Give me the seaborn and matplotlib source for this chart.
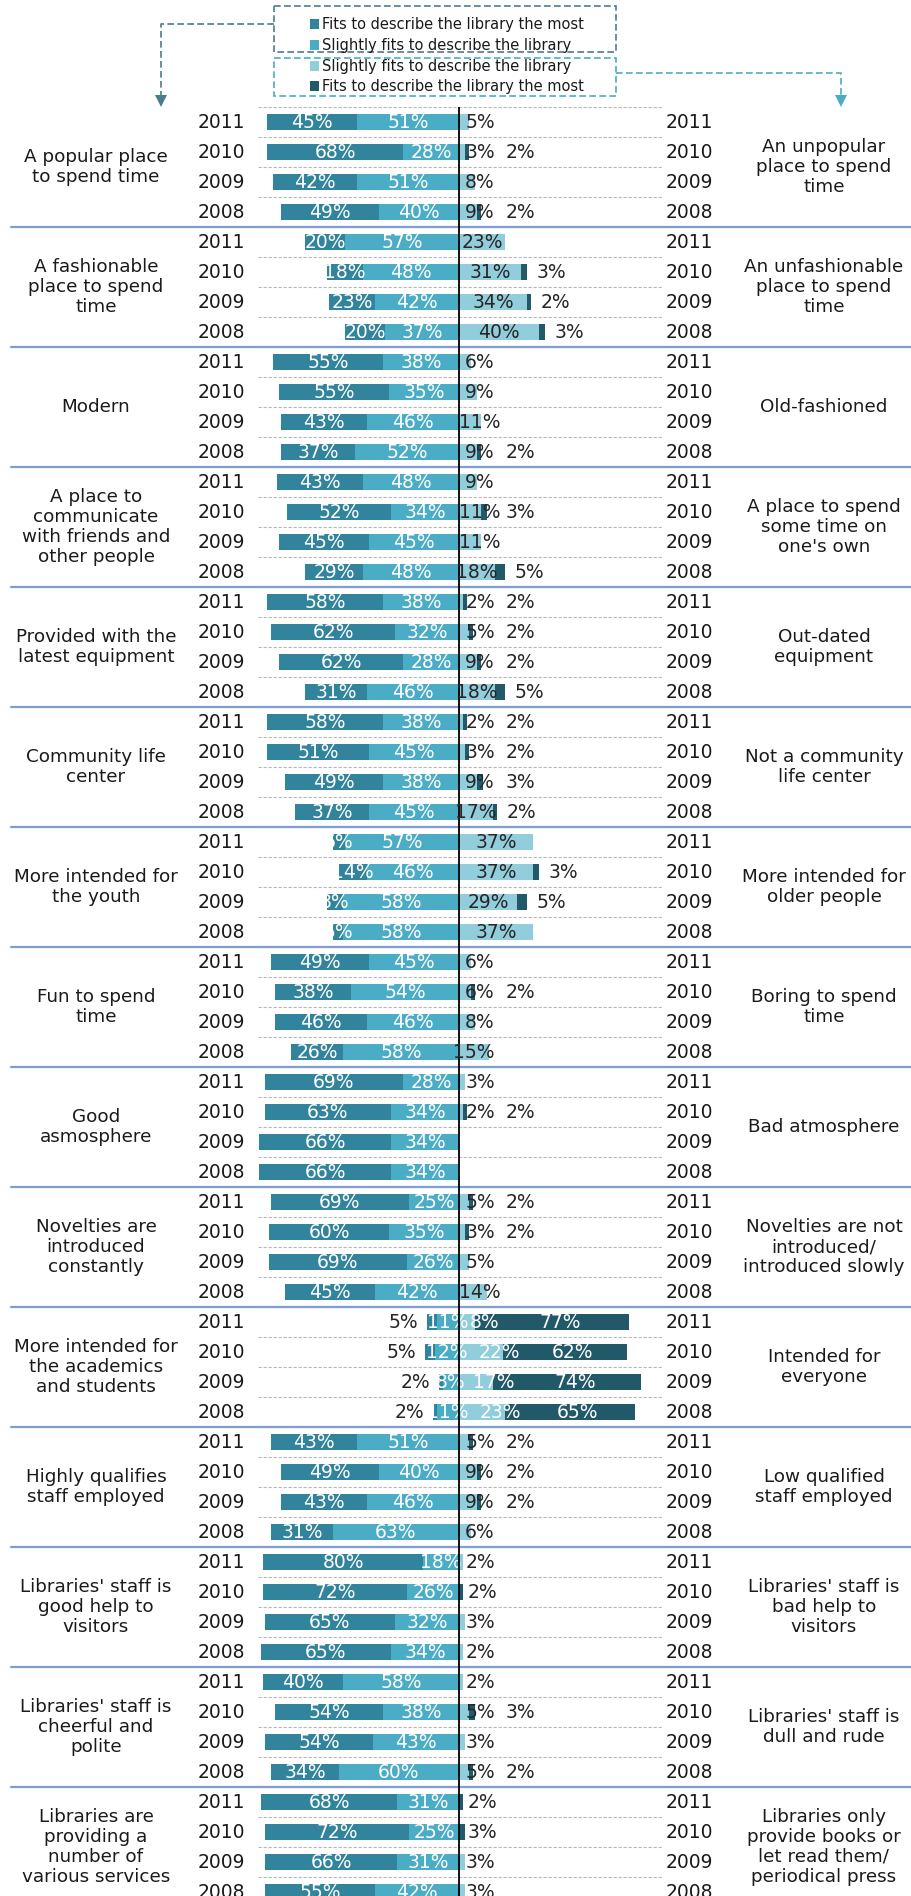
import matplotlib
matplotlib.use("Agg")
import matplotlib.pyplot as plt
import pandas as pd
import seaborn as sns
from matplotlib.patches import Rectangle, Polygon

years = ["2011", "2010", "2009", "2008"]

left_labels = [
    "A popular place\nto spend time",
    "A fashionable\nplace to spend\ntime",
    "Modern",
    "A place to\ncommunicate\nwith friends and\nother people",
    "Provided with the\nlatest equipment",
    "Community life\ncenter",
    "More intended for\nthe youth",
    "Fun to spend\ntime",
    "Good\nasmosphere",
    "Novelties are\nintroduced\nconstantly",
    "More intended for\nthe academics\nand students",
    "Highly qualifies\nstaff employed",
    "Libraries' staff is\ngood help to\nvisitors",
    "Libraries' staff is\ncheerful and\npolite",
    "Libraries are\nproviding a\nnumber of\nvarious services",
]
right_labels = [
    "An unpopular\nplace to spend\ntime",
    "An unfashionable\nplace to spend\ntime",
    "Old-fashioned",
    "A place to spend\nsome time on\none's own",
    "Out-dated\nequipment",
    "Not a community\nlife center",
    "More intended for\nolder people",
    "Boring to spend\ntime",
    "Bad atmosphere",
    "Novelties are not\nintroduced/\nintroduced slowly",
    "Intended for\neveryone",
    "Low qualified\nstaff employed",
    "Libraries' staff is\nbad help to\nvisitors",
    "Libraries' staff is\ndull and rude",
    "Libraries only\nprovide books or\nlet read them/\nperiodical press",
]

# values per group, years 2011, 2010, 2009, 2008
most_left = [
    [45, 68, 42, 49], [20, 18, 23, 20], [55, 55, 43, 37], [43, 52, 45, 29],
    [58, 62, 62, 31], [58, 51, 49, 37], [6, 14, 8, 5], [49, 38, 46, 26],
    [69, 63, 66, 66], [69, 60, 69, 45], [5, 5, 2, 2], [43, 49, 43, 31],
    [80, 72, 65, 65], [40, 54, 54, 34], [68, 72, 66, 55],
]
slight_left = [
    [51, 28, 51, 40], [57, 48, 42, 37], [38, 35, 46, 52], [48, 34, 45, 48],
    [38, 32, 28, 46], [38, 45, 38, 45], [57, 46, 58, 58], [45, 54, 46, 58],
    [28, 34, 34, 34], [25, 35, 26, 42], [11, 12, 8, 11], [51, 40, 46, 63],
    [18, 26, 32, 34], [58, 38, 43, 60], [31, 25, 31, 42],
]
slight_right = [
    [5, 3, 8, 9], [23, 31, 34, 40], [6, 9, 11, 9], [9, 11, 11, 18],
    [2, 5, 9, 18], [2, 3, 9, 17], [37, 37, 29, 37], [6, 6, 8, 15],
    [3, 2, 0, 0], [5, 3, 5, 14], [8, 22, 17, 23], [5, 9, 9, 6],
    [2, 0, 3, 2], [2, 5, 3, 5], [0, 0, 3, 3],
]
most_right = [
    [0, 2, 0, 2], [0, 3, 2, 3], [0, 0, 0, 2], [0, 3, 0, 5],
    [2, 2, 2, 5], [2, 2, 3, 2], [0, 3, 5, 0], [0, 2, 0, 0],
    [0, 2, 0, 0], [2, 2, 0, 0], [77, 62, 74, 65], [2, 2, 2, 0],
    [0, 2, 0, 0], [0, 3, 0, 2], [2, 3, 0, 0],
]

legend_texts = [
    "Fits to describe the library the most",
    "Slightly fits to describe the library",
    "Slightly fits to describe the library",
    "Fits to describe the library the most",
]

C_MOST_L = "#31849B"
C_SLIGHT_L = "#4BACC6"
C_SLIGHT_R = "#92CDDC"
C_MOST_R = "#215968"
DARK = "#262626"

rows = [f"{g}-{y}" for g in range(len(left_labels)) for y in years]
df = pd.DataFrame({
    "row": rows,
    "most_left": [v for grp in most_left for v in grp],
    "slight_left": [v for grp in slight_left for v in grp],
    "slight_right": [v for grp in slight_right for v in grp],
    "most_right": [v for grp in most_right for v in grp],
})
df["left_total"] = -(df["most_left"] + df["slight_left"])
df["left_inner"] = -df["slight_left"]
df["right_total"] = df["slight_right"] + df["most_right"]
df["right_inner"] = df["slight_right"]

sns.set_theme(style="white")
plt.rcParams["font.family"] = ["DejaVu Sans"]

fig = plt.figure(figsize=(9.12, 18.96), dpi=100)
top_px = 107
ax = fig.add_axes([0, 0, 1, (1896 - top_px) / 1896])

bar_kw = dict(y="row", orient="y", order=rows, width=0.54, saturation=1,
              linewidth=0, errorbar=None, ax=ax)
sns.barplot(data=df, x="left_total", color=C_MOST_L, **bar_kw)
sns.barplot(data=df, x="left_inner", color=C_SLIGHT_L, **bar_kw)
sns.barplot(data=df, x="right_total", color=C_MOST_R, **bar_kw)
sns.barplot(data=df, x="right_inner", color=C_SLIGHT_R, **bar_kw)

n = len(rows)
ax.set_xlim(-229.5, 226.5)
ax.set_ylim(-0.5 + (1896 - top_px) / 30, -0.5)
ax.set_axis_off()

# row separators
for b in range(n + 1):
    ax.plot([-100.5, 102], [b - 0.5, b - 0.5], color="#b8b8b8", lw=0.8,
            ls=(0, (3, 1.5)), zorder=1)
for g in range(1, len(left_labels)):
    ax.plot([-224, 226.5], [4 * g - 0.5] * 2, color="#7e9dd0", lw=1.6, zorder=2)
ax.axvline(0, color="black", lw=1.3, zorder=6)

fs = 13.5
for i, r in df.iterrows():
    ml, sl, sr, mr = r["most_left"], r["slight_left"], r["slight_right"], r["most_right"]
    if ml > 0:
        if ml < 6 and ml + sl < 20:
            ax.text(-(ml + sl) - 12, i, f"{ml}%", ha="center", va="center", fontsize=fs, color=DARK)
        else:
            ax.text(-(sl + ml / 2), i, f"{ml}%", ha="center", va="center", fontsize=fs, color="white")
    if sl > 0:
        ax.text(-sl / 2, i, f"{sl}%", ha="center", va="center", fontsize=fs, color="white")
    if mr > sr:
        xs = sr / 2 + 9
    elif sr >= 15:
        xs = sr / 2
    else:
        xs = max(sr / 2, 10.5)
    if sr > 0:
        ax.text(xs, i, f"{sr}%", ha="center", va="center", fontsize=fs,
                color="white" if mr > sr else DARK, zorder=7)
    if mr > 0:
        if mr >= 10:
            ax.text(sr + mr / 2 + 4, i, f"{mr}%", ha="center", va="center", fontsize=fs, color="white")
        elif sr == 0:
            ax.text(max(mr / 2, 10) + 1.5, i, f"{mr}%", ha="center", va="center", fontsize=fs, color=DARK, zorder=7)
        else:
            ax.text(max(xs + 20, sr + mr + 12), i, f"{mr}%", ha="center", va="center",
                    fontsize=fs, color=DARK, zorder=7)
    yr = years[i % 4]
    ax.text(-130.5, i, yr, ha="left", va="center", fontsize=fs, color="#1a1a1a")
    ax.text(103.5, i, yr, ha="left", va="center", fontsize=fs, color="#1a1a1a")

for g, (lt, rt) in enumerate(zip(left_labels, right_labels)):
    yc = 4 * g + 1.5
    ax.text(-181.5, yc, lt, ha="center", va="center", fontsize=13.2,
            linespacing=1.12, color="#1a1a1a")
    ax.text(182.5, yc, rt, ha="center", va="center", fontsize=13.2,
            linespacing=1.12, color="#1a1a1a")

# legend block drawn in pixel coordinates
lax = fig.add_axes([0, 0, 1, 1])
lax.set_xlim(0, 912)
lax.set_ylim(1896, 0)
lax.set_axis_off()
dark_edge = "#4a7d8c"
light_edge = "#4BACC6"
lax.add_patch(Rectangle((274, 6), 342, 46, fill=False, ec=dark_edge, lw=1.2, ls=(0, (4, 2))))
lax.add_patch(Rectangle((274, 58), 342, 38, fill=False, ec=light_edge, lw=1.2, ls=(0, (4, 2))))
for yy, txt, col in zip([24, 45, 66, 86], legend_texts, [C_MOST_L, C_SLIGHT_L, C_SLIGHT_R, C_MOST_R]):
    lax.add_patch(Rectangle((310, yy - 5), 9, 10, fc=col, ec="none"))
    lax.text(322, yy, txt, ha="left", va="center", fontsize=10.5, color="#1a1a1a")
lax.plot([274, 161, 161], [24, 24, 95], color=dark_edge, lw=1.2, ls=(0, (4, 2)))
lax.add_patch(Polygon([(155, 95), (167, 95), (161, 107)], closed=True, fc=dark_edge, ec="none"))
lax.plot([616, 841, 841], [73, 73, 95], color=light_edge, lw=1.2, ls=(0, (4, 2)))
lax.add_patch(Polygon([(835, 95), (847, 95), (841, 107)], closed=True, fc=light_edge, ec="none"))

fig.savefig("out.png", dpi=100)
